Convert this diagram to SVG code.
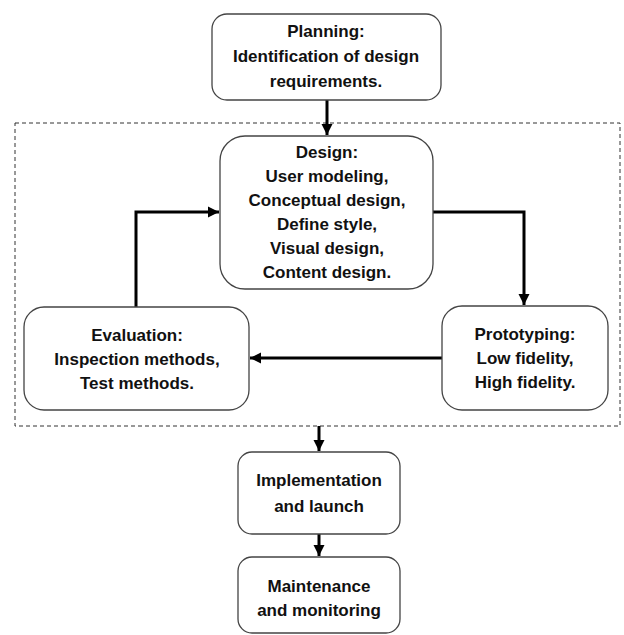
<svg xmlns="http://www.w3.org/2000/svg" width="624" height="635" viewBox="0 0 624 635">
<style>
.box{fill:#fff;stroke:#444;stroke-width:1.3}
.t{font-family:"Liberation Sans",Arial,sans-serif;font-weight:bold;font-size:17px;fill:#111;text-anchor:middle}
.c{fill:none;stroke:#000;stroke-width:3}
.dash{fill:none;stroke:#333;stroke-width:1;stroke-dasharray:4 3}
</style>
<defs>
<marker id="ah" markerUnits="userSpaceOnUse" markerWidth="12" markerHeight="12" viewBox="0 0 12 12" refX="11" refY="6" orient="auto">
<path d="M0,0.5 L11,6 L0,11.5 Z" fill="#000"/>
</marker>
</defs>
<rect class="dash" x="15" y="123" width="605" height="303"/>
<g id="connectors">
<path class="c" d="M327,100 V135" marker-end="url(#ah)"/>
<path class="c" d="M433,212 H524 V305" marker-end="url(#ah)"/>
<path class="c" d="M136,307 V212 H219" marker-end="url(#ah)"/>
<path class="c" d="M442,358 H250" marker-end="url(#ah)"/>
<path class="c" d="M319,426 V451" marker-end="url(#ah)"/>
<path class="c" d="M319,534 V556" marker-end="url(#ah)"/>
</g>
<g id="planning">
<rect class="box" x="212" y="14" width="229" height="86" rx="15"/>
<text class="t" x="326" y="37">Planning:</text>
<text class="t" x="326" y="62">Identification of design</text>
<text class="t" x="326" y="87">requirements.</text>
</g>
<g id="design">
<rect class="box" x="220" y="136" width="213" height="153" rx="25"/>
<text class="t" x="327" y="158">Design:</text>
<text class="t" x="327" y="182">User modeling,</text>
<text class="t" x="327" y="206">Conceptual design,</text>
<text class="t" x="327" y="230">Define style,</text>
<text class="t" x="327" y="254">Visual design,</text>
<text class="t" x="327" y="278">Content design.</text>
</g>
<g id="evaluation">
<rect class="box" x="24" y="307" width="225" height="103" rx="20"/>
<text class="t" x="137" y="341">Evaluation:</text>
<text class="t" x="137" y="365">Inspection methods,</text>
<text class="t" x="137" y="389">Test methods.</text>
</g>
<g id="prototyping">
<rect class="box" x="442" y="306" width="166" height="104" rx="20"/>
<text class="t" x="525" y="340">Prototyping:</text>
<text class="t" x="525" y="364">Low fidelity,</text>
<text class="t" x="525" y="388">High fidelity.</text>
</g>
<g id="implementation">
<rect class="box" x="238" y="452" width="162" height="82" rx="14"/>
<text class="t" x="319" y="486">Implementation</text>
<text class="t" x="319" y="512">and launch</text>
</g>
<g id="maintenance">
<rect class="box" x="238" y="557" width="162" height="76" rx="14"/>
<text class="t" x="319" y="592">Maintenance</text>
<text class="t" x="319" y="616">and monitoring</text>
</g>
</svg>
